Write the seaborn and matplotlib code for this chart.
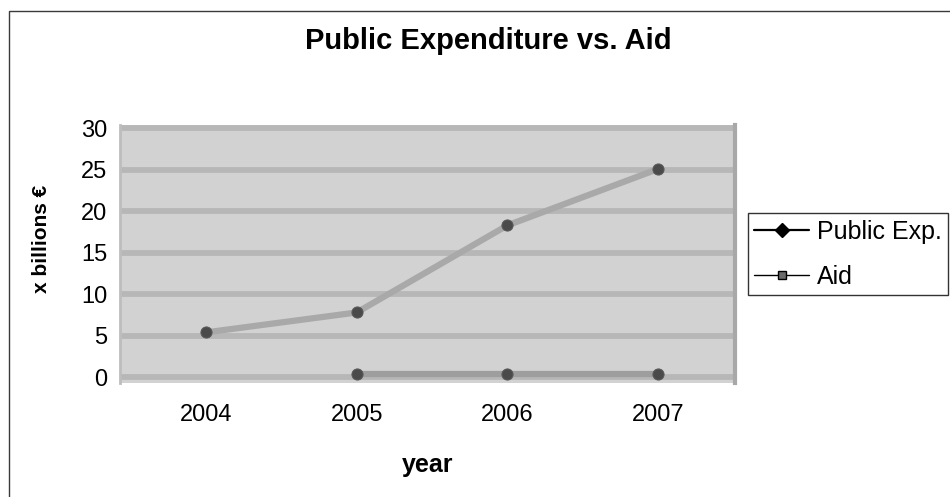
import numpy as np
import pandas as pd
import matplotlib
matplotlib.use("Agg")
import matplotlib.pyplot as plt
import seaborn as sns
from matplotlib.lines import Line2D
from matplotlib.patches import Rectangle

# Values in billions of euro
years = [2004, 2005, 2006, 2007]
public_exp = [5.4, 7.8, 18.3, 25.1]
aid = [np.nan, 0.4, 0.4, 0.4]
year_labels = ["2004", "2005", "2006", "2007"]
y_ticks = [0, 5, 10, 15, 20, 25, 30]

series_names = ["Public Exp.", "Aid"]

sns.set_theme(style="white")
plt.rcParams["font.family"] = ["Liberation Sans", "DejaVu Sans"]
plt.rcParams["text.color"] = "black"
plt.rcParams["axes.labelcolor"] = "black"

W, H = 950, 497
fig = plt.figure(figsize=(W / 100, H / 100), dpi=100)
fig.patch.set_facecolor("white")

# outer chart frame
fig.add_artist(Rectangle((9 / W, -0.05), 1.1, 1 - 11 / H + 0.05,
                         transform=fig.transFigure, fill=False,
                         edgecolor="#3a3a3a", lw=1.0))

ax = fig.add_axes([120 / W, 114 / H, 615 / W, 258 / H])
ax.set_facecolor("#d2d2d2")

df = pd.DataFrame({"year": years, "public": public_exp, "aid": aid})

sns.lineplot(data=df, x="year", y="public", ax=ax, color="#a9a9a9", lw=4.5,
             marker="o", markersize=8, markerfacecolor="#4a4a4a",
             markeredgecolor="#5a5a5a", zorder=3)
sns.lineplot(data=df.dropna(), x="year", y="aid", ax=ax, color="#9e9e9e", lw=4.5,
             marker="o", markersize=8, markerfacecolor="#4a4a4a",
             markeredgecolor="#5a5a5a", zorder=3)

ax.set_xlim(2003.43, 2007.51)
ax.set_ylim(-0.7, 30.4)
ax.set_xticks(years)
ax.set_xticklabels(year_labels)
ax.set_yticks(y_ticks)
ax.yaxis.grid(True, color="#b7b7b7", lw=4.2)
ax.xaxis.grid(False)
ax.set_axisbelow(True)
ax.tick_params(axis="both", labelsize=17, length=0, colors="black")
ax.tick_params(axis="y", pad=9)
ax.tick_params(axis="x", pad=15)

for side in ["top", "bottom"]:
    ax.spines[side].set_visible(False)
ax.spines["left"].set_color("#bdbdbd")
ax.spines["left"].set_linewidth(2)
ax.spines["right"].set_color("#a8a8a8")
ax.spines["right"].set_linewidth(3)

ax.set_xlabel("year", fontsize=18, fontweight="bold")
ax.xaxis.set_label_coords(0.5, -0.27)
ax.set_ylabel("x billions €", fontsize=15, fontweight="bold", va="center")
ax.yaxis.set_label_coords(-0.128, 0.558)

fig.text(488 / W, 1 - 41 / H, "Public Expenditure vs. Aid", ha="center",
         va="center", fontsize=21, fontweight="bold")

handles = [
    Line2D([], [], color="black", lw=1.6, marker="D", markersize=7,
           markerfacecolor="black", markeredgecolor="black"),
    Line2D([], [], color="black", lw=1.0, marker="s", markersize=6,
           markerfacecolor="#6a6a6a", markeredgecolor="black"),
]
leg = fig.legend(handles, series_names, loc="lower left",
                 bbox_to_anchor=(748 / W, 1 - 295 / H), fontsize=18,
                 frameon=True, fancybox=False, handlelength=2.2,
                 handletextpad=0.3, borderpad=0.25, labelspacing=0.85,
                 borderaxespad=0)
leg.get_frame().set_edgecolor("black")
leg.get_frame().set_linewidth(1.0)

fig.savefig("out.png", dpi=100)
